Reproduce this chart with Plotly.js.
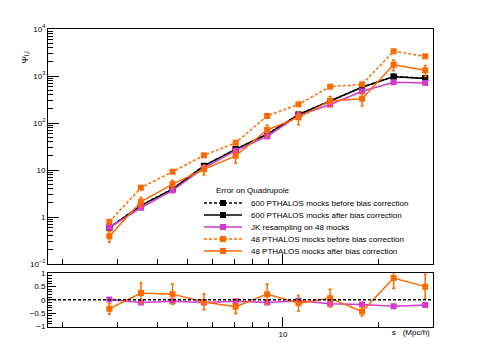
<!DOCTYPE html>
<html>
<head>
<meta charset="utf-8">
<script src="https://cdn.plot.ly/plotly-3.0.1.min.js"></script>
<style>
  html, body { margin: 0; padding: 0; background: #fff; }
  #chart { width: 482px; height: 346px; }
</style>
</head>
<body>
<div id="chart"></div>
<script>
// separation bins s (Mpc/h)
const S = [2.82, 3.55, 4.47, 5.62, 7.08, 8.91, 11.2, 14.1, 17.8, 22.4, 28.2];

// error on quadrupole, top panel
const PTH600_BEFORE = [0.6, 1.78, 3.95, 12.3, 27.8, 58, 152, 295, 580, 975, 900];
const PTH600_AFTER  = [0.59, 1.74, 3.9, 12.2, 27.5, 57.5, 150, 290, 575, 968, 890];
const JK48          = [0.6, 1.57, 3.67, 11.0, 25.8, 52, 144, 247, 472, 736, 712];
const PTH48_BEFORE  = [0.79, 4.2, 9.2, 20.5, 38, 141, 250, 593, 665, 3350, 2620];
const PTH48_AFTER   = [0.39, 2.1, 5.0, 10.3, 20, 71, 132, 295, 329, 1740, 1320];
const PTH48_AFTER_ERR = [0.1, 0.5, 1.0, 2.5, 6, 20, 40, 70, 100, 450, 350];

// relative difference to 600 mocks after correction, bottom panel
const RATIO_JK   = [0.01, -0.10, -0.06, -0.10, -0.06, -0.10, -0.04, -0.15, -0.18, -0.24, -0.20];
const RATIO_48   = [-0.34, 0.25, 0.21, -0.08, -0.26, 0.21, -0.13, 0.06, -0.44, 0.81, 0.49];
const RATIO_48_ERR = [0.2, 0.39, 0.38, 0.3, 0.25, 0.38, 0.29, 0.33, 0.17, 0.39, 0.46];

const DASHED = '3px,2px';
const BLACK = '#000000', MAG = '#d23ad2', ORANGE = '#ff6a00';

const LEGEND = [
  { label: '600 PTHALOS mocks before bias correction', color: BLACK, dash: DASHED },
  { label: '600 PTHALOS mocks after bias correction', color: BLACK, dash: 'solid' },
  { label: 'JK resampling on 48 mocks', color: MAG, dash: 'solid' },
  { label: '48 PTHALOS mocks before bias correction', color: ORANGE, dash: DASHED },
  { label: '48 PTHALOS mocks after bias correction', color: ORANGE, dash: 'solid' },
];

const FONT = { family: 'Liberation Sans, Arial, sans-serif', size: 8, color: '#000' };
const W = 482, H = 346;
const px = (x) => x / W;
const py = (y) => 1 - y / H;

function line(y, color, dash, xaxis, yaxis, err) {
  const t = {
    x: S, y, type: 'scatter', mode: 'lines+markers',
    xaxis, yaxis, showlegend: false,
    line: { color, width: 1.5, dash },
    marker: { symbol: 'square', size: 6, color },
  };
  if (err) t.error_y = { type: 'data', array: err, visible: true, color, thickness: 1.5, width: 1.5 };
  return t;
}

const traces = [
  line(PTH600_BEFORE, BLACK, DASHED, 'x', 'y'),
  line(PTH600_AFTER, BLACK, 'solid', 'x', 'y'),
  line(JK48, MAG, 'solid', 'x', 'y'),
  line(PTH48_BEFORE, ORANGE, DASHED, 'x', 'y'),
  line(PTH48_AFTER, ORANGE, 'solid', 'x', 'y', PTH48_AFTER_ERR),
  line(RATIO_JK, MAG, 'solid', 'x2', 'y2'),
  line(RATIO_48, ORANGE, 'solid', 'x2', 'y2', RATIO_48_ERR),
];

// log minor tick positions
const logMinor = (lo, hi) => {
  const v = [];
  for (let d = lo; d < hi; d++) for (let k = 2; k <= 9; k++) v.push(k * Math.pow(10, d));
  return v;
};

const xDomain = [px(48), px(433)];
const xRange = [0.256, 1.475];
const xCommon = {
  type: 'log', range: xRange, domain: xDomain,
  showline: true, mirror: true, linecolor: '#000', linewidth: 1,
  showgrid: false, zeroline: false,
  ticks: 'inside', ticklen: 10, tickcolor: '#000',
  tickvals: [10], ticktext: ['10'],
  minor: { tickvals: [2, 3, 4, 5, 6, 7, 8, 9, 20], ticks: 'inside', ticklen: 5, tickcolor: '#000', showgrid: false },
  tickfont: FONT,
};

const shapes = [
  // zero reference in the ratio panel
  { type: 'line', xref: 'x2 domain', yref: 'y2', x0: 0, x1: 1, y0: 0, y1: 0,
    line: { color: '#000', width: 1.5, dash: DASHED } },
];
const annotations = [
  { text: 'Ψ<sub>l,l</sub>', xref: 'paper', yref: 'paper', x: px(18), y: py(50),
    showarrow: false, textangle: -90, font: { ...FONT, size: 9 } },
  { text: 's   (Mpc/h)', xref: 'paper', yref: 'paper', x: px(432), y: py(339),
    xanchor: 'right', showarrow: false, font: FONT },
  { text: 'Error on Quadrupole', xref: 'paper', yref: 'paper', x: px(214), y: py(190),
    xanchor: 'left', showarrow: false, font: FONT },
];

// hand-drawn legend keys (ROOT-style compact legend)
LEGEND.forEach((e, i) => {
  const yy = 203 + i * 12;
  shapes.push({ type: 'line', xref: 'paper', yref: 'paper', x0: px(204), x1: px(242),
    y0: py(yy), y1: py(yy), line: { color: e.color, width: 1.5, dash: e.dash } });
  shapes.push({ type: 'rect', xref: 'paper', yref: 'paper', x0: px(220), x1: px(226),
    y0: py(yy + 3), y1: py(yy - 3), fillcolor: e.color, line: { width: 0 } });
  annotations.push({ text: e.label, xref: 'paper', yref: 'paper', x: px(249), y: py(yy),
    xanchor: 'left', yanchor: 'middle', showarrow: false, font: FONT });
});

const layout = {
  width: W, height: H,
  margin: { l: 0, r: 0, t: 0, b: 0 },
  paper_bgcolor: '#fff', plot_bgcolor: '#fff',
  font: FONT, showlegend: false,
  xaxis: { ...xCommon, anchor: 'y', showticklabels: false },
  yaxis: {
    type: 'log', range: [-1, 4], domain: [py(264), py(29)], anchor: 'x',
    showline: true, mirror: true, linecolor: '#000', linewidth: 1,
    showgrid: false, zeroline: false,
    ticks: 'inside', ticklen: 11, tickcolor: '#000',
    tickvals: [0.1, 1, 10, 100, 1000, 10000],
    ticktext: ['10<sup>−1</sup>', '1', '10', '10<sup>2</sup>', '10<sup>3</sup>', '10<sup>4</sup>'],
    minor: { tickvals: logMinor(-1, 4), ticks: 'inside', ticklen: 5, tickcolor: '#000', showgrid: false },
    tickfont: FONT,
  },
  xaxis2: { ...xCommon, anchor: 'y2', matches: 'x' },
  yaxis2: {
    range: [-1, 1], domain: [py(326.5), py(273)], anchor: 'x2',
    showline: true, mirror: true, linecolor: '#000', linewidth: 1,
    showgrid: false, zeroline: false,
    ticks: 'inside', ticklen: 8, tickcolor: '#000',
    tickvals: [-1, -0.5, 0, 0.5, 1], ticktext: ['−1', '−0.5', '0', '0.5', '1'],
    minor: { dtick: 0.1, ticks: 'inside', ticklen: 4, tickcolor: '#000', showgrid: false },
    tickfont: FONT,
  },
  shapes, annotations,
};

Plotly.newPlot('chart', traces, layout, { staticPlot: true, displayModeBar: false });
</script>
</body>
</html>
